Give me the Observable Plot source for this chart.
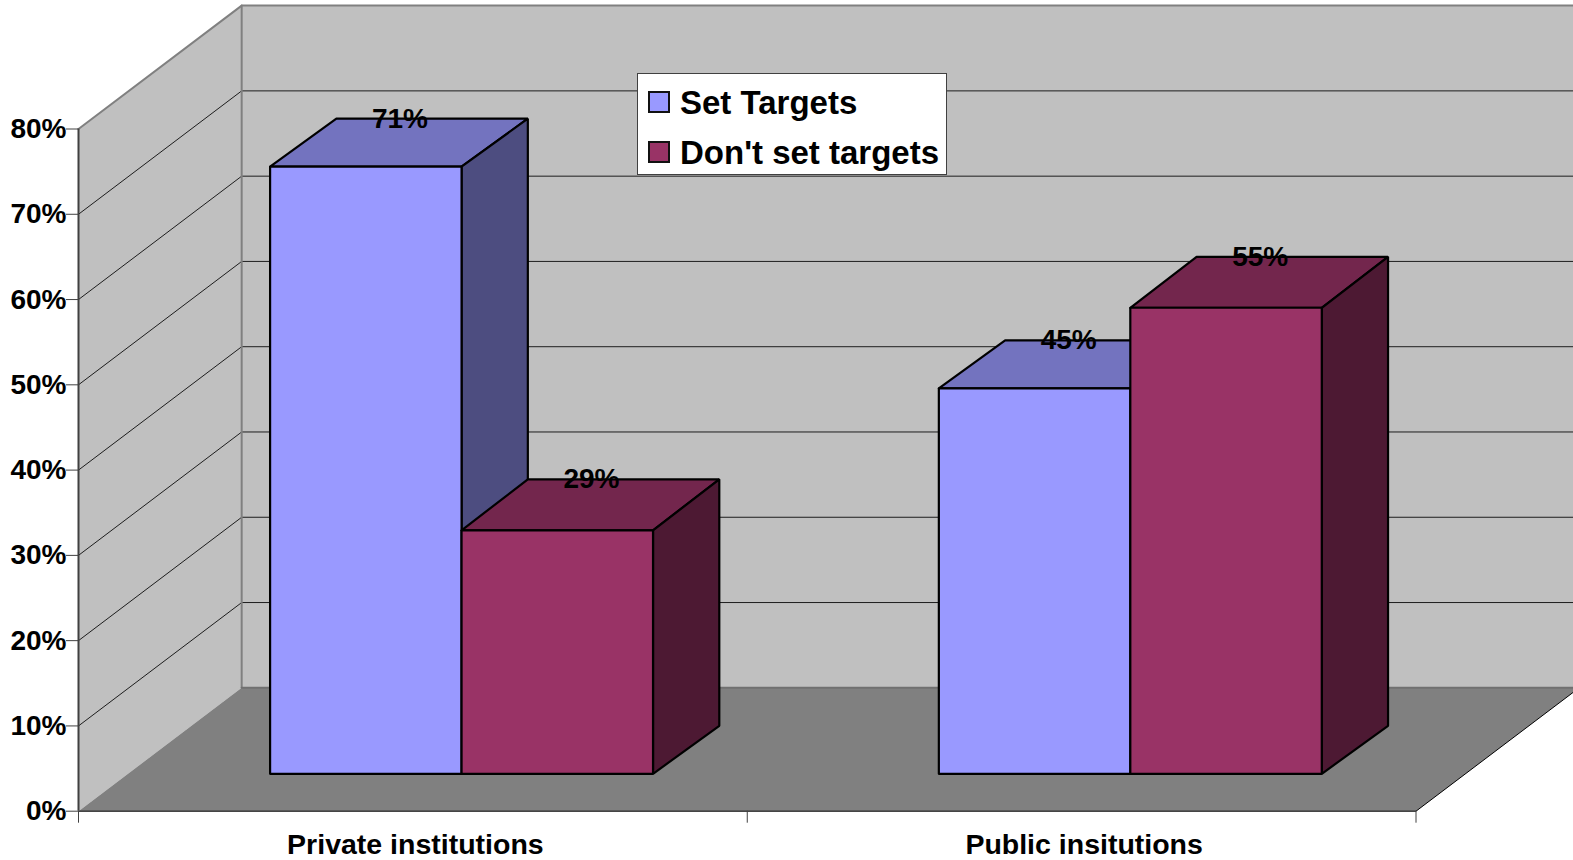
<!DOCTYPE html>
<html>
<head>
<meta charset="utf-8">
<script src="https://cdn.jsdelivr.net/npm/d3@7"></script>
<script src="https://cdn.jsdelivr.net/npm/@observablehq/plot@0.6"></script>
<style>
  html, body { margin: 0; padding: 0; background: #fff; }
  #chart { position: relative; width: 1573px; height: 860px; overflow: hidden; font-family: "Liberation Sans", Arial, sans-serif; }
  #chart svg { display: block; }
  #legend { position: absolute; left: 637px; top: 73px; width: 308px; height: 100px; background: #fff; border: 1px solid #404040; font-weight: bold; font-size: 33px; color: #000; }
  .entry { position: absolute; left: 42px; line-height: 36px; white-space: nowrap; }
  .swatch { position: absolute; left: 10px; width: 18px; height: 18px; border: 2px solid #111; }
</style>
</head>
<body>
<div id="chart"></div>
<script>
const categories = ["Private institutions", "Public insitutions"];
const seriesNames = ["Set Targets", "Don't set targets"];
const setTargets = [71.2, 45.2];
const dontSetTargets = [28.9, 55];
const yTicks = [0, 10, 20, 30, 40, 50, 60, 70, 80];
const xTicks = [0, 1, 2];
const xLabelTicks = [0.5, 1.5];

const blue = { front: "#9999FF", top: "#7373BF", side: "#4D4D80" };
const maroon = { front: "#993366", top: "#73264D", side: "#4D1933" };
const wallColor = "#C0C0C0", floorColor = "#808080", edgeColor = "#808080";

// Oblique projection constants, in data units
const wallDX = 0.244, wallDY = 14.47;
const barStart = 0.2865, barW = 0.2863;
const baseDY = 4.386, barDX = 0.0991, barDY = 5.63;
const maroonDrop = 0.35;

const poly = (pts, fill, stroke, strokeWidth) =>
  Plot.line([...pts, pts[0]].map(([x, y]) => ({x, y})), {
    x: "x", y: "y", fill, stroke: stroke ?? "none", strokeWidth: strokeWidth ?? 0,
    strokeLinejoin: "miter", curve: "linear"
  });

function bar(left, value, colors, drop) {
  const r = left + barW;
  const b = baseDY, t = value + baseDY;
  const s = 2.2;
  return [
    poly([[left, t - drop], [r, t - drop], [r + barDX, t + barDY], [left + barDX, t + barDY]], colors.top, "#000", s),
    poly([[r, t - drop], [r + barDX, t + barDY], [r + barDX, b + barDY], [r, b]], colors.side, "#000", s),
    poly([[left, b], [r, b], [r, t - drop], [left, t - drop]], colors.front, "#000", s)
  ];
}

const bars = categories.flatMap((c, i) => [
  ...bar(i + barStart, setTargets[i], blue, 0),
  ...bar(i + barStart + barW, dontSetTargets[i], maroon, maroonDrop)
]);

const labels = categories.flatMap((c, i) => [
  { x: i + barStart + barW / 2 + barDX / 2, y: setTargets[i] + baseDY + barDY, t: Math.round(setTargets[i]) + "%" },
  { x: i + barStart + barW * 1.5 + barDX / 2, y: dontSetTargets[i] + baseDY + barDY, t: Math.round(dontSetTargets[i]) + "%" }
]);

const gridBack = yTicks.filter(d => d > 0 && d < 80);
const rightX = 2 + wallDX;

const plot = Plot.plot({
  width: 1573,
  height: 860,
  marginLeft: 78,
  marginRight: 157.5,
  marginTop: 128.5,
  marginBottom: 49.3,
  style: { fontFamily: "'Liberation Sans', Arial, sans-serif", background: "#fff", color: "#000" },
  x: { domain: [0, 2], range: [78, 1415.5], axis: null },
  y: { domain: [0, 80], range: [810.7, 128.5], axis: null },
  marks: [
    // walls and floor
    poly([[0, 0], [wallDX, wallDY], [wallDX, 80 + wallDY], [0, 80]], wallColor),
    poly([[wallDX, wallDY], [rightX, wallDY], [rightX, 80 + wallDY], [wallDX, 80 + wallDY]], wallColor),
    poly([[0, 0], [2, 0], [rightX, wallDY], [wallDX, wallDY]], floorColor),
    // gridlines
    ...gridBack.map(v => Plot.line([[0, v], [wallDX, v + wallDY], [rightX, v + wallDY]].map(([x, y]) => ({x, y})), {
      x: "x", y: "y", stroke: "#000", strokeWidth: 1, strokeOpacity: 0.85
    })),
    // wall edges
    Plot.line([[0, 80], [wallDX, 80 + wallDY], [rightX, 80 + wallDY]].map(([x, y]) => ({x, y})), { x: "x", y: "y", stroke: edgeColor, strokeWidth: 2 }),
    Plot.line([[wallDX, wallDY], [wallDX, 80 + wallDY]].map(([x, y]) => ({x, y})), { x: "x", y: "y", stroke: edgeColor, strokeWidth: 2 }),
    Plot.line([[wallDX, wallDY], [rightX, wallDY]].map(([x, y]) => ({x, y})), { x: "x", y: "y", stroke: "#707070", strokeWidth: 2 }),
    // floor outer edges
    Plot.line([[0, 0], [2, 0], [rightX, wallDY]].map(([x, y]) => ({x, y})), { x: "x", y: "y", stroke: "#000", strokeWidth: 1 }),
    ...bars,
    // axes
    Plot.ruleX([0], { y1: 0, y2: 80, stroke: "#404040", strokeWidth: 2 }),
    Plot.axisY(yTicks, {
      anchor: "left", label: null, tickSize: 12, tickPadding: 0,
      tickFormat: d => d + "%", stroke: "#404040", fill: "#000",
      fontSize: 28, fontWeight: "bold"
    }),
    Plot.axisX(xTicks, { anchor: "bottom", label: null, tickSize: 12, tickFormat: () => "", stroke: "#404040" }),
    Plot.axisX(xLabelTicks, {
      anchor: "bottom", label: null, tickSize: 0, tickPadding: 22.5, dx: 2.5,
      tickFormat: d => categories[Math.floor(d)], fill: "#000",
      fontSize: 28.5, fontWeight: "bold"
    }),
    // data labels
    Plot.text(labels, { x: "x", y: "y", dx: 1, text: "t", fill: "#000", fontSize: 28, fontWeight: "bold" })
  ]
});

const chart = document.getElementById("chart");
chart.appendChild(plot);

const legend = document.createElement("div");
legend.id = "legend";
[[seriesNames[0], blue.front, 9], [seriesNames[1], maroon.front, 59]].forEach(([name, color, top]) => {
  const e = document.createElement("div");
  e.className = "entry";
  e.style.top = (top + 1.5) + "px";
  e.textContent = name;
  const s = document.createElement("div");
  s.className = "swatch";
  s.style.background = color;
  s.style.top = (top + 8) + "px";
  legend.append(s, e);
});
chart.appendChild(legend);
</script>
</body>
</html>
